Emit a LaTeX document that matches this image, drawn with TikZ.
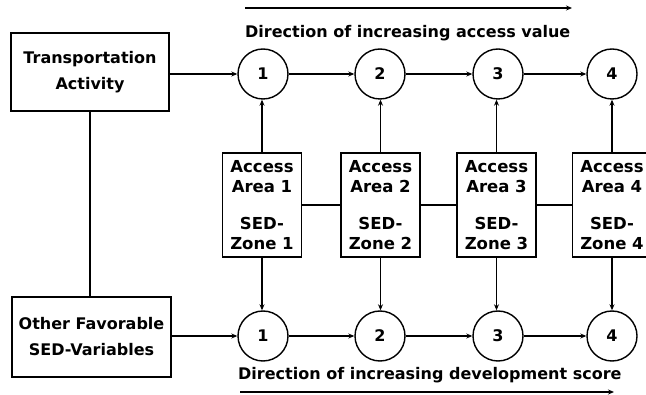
\documentclass[tikz,border=0pt]{standalone}
\usepackage{fontspec}
\setmainfont{DejaVu Sans}
\usetikzlibrary{arrows.meta}
\begin{document}
\begin{tikzpicture}[x=1pt,y=-1pt,
  every node/.style={font=\bfseries\fontsize{16}{26}\selectfont},
  bigbox/.style={draw,line width=1.4pt,minimum width=158pt,minimum height=78pt,inner sep=0pt,align=center},
  areabox/.style={draw,line width=1.4pt,minimum width=79pt,minimum height=104pt,inner sep=0pt,align=center,
     font=\bfseries\fontsize{16.5}{20}\selectfont},
  numc/.style={draw,circle,line width=1.4pt,minimum size=50pt,inner sep=0pt,font=\bfseries\fontsize{16}{20}\selectfont},
  conn/.style={line width=1.2pt},
  arr/.style={conn,-{Stealth[length=6pt,width=5pt]}},
  lbl/.style={anchor=base west,inner sep=0pt}
]
\useasboundingbox (0,0) rectangle (646,395);

\node[bigbox] (ta) at (90,72) {Transportation\\Activity};
\node[bigbox,minimum width=159pt,minimum height=80pt] (of) at (91.5,337) {Other Favorable\\SED-Variables};

\foreach \i/\cx/\bx in {1/263/262,2/380/380,3/498/496.5,4/612/612}{
  \node[numc] (t\i) at (\cx,74) {\i};
  \node[numc] (b\i) at (\cx,336) {\i};
}
\node[areabox] (z1) at (262,205) {Access\\Area 1\\[17pt]SED-\\Zone 1};
\node[areabox] (z2) at (380.5,205) {Access\\Area 2\\[17pt]SED-\\Zone 2};
\node[areabox] (z3) at (496.5,205) {Access\\Area 3\\[17pt]SED-\\Zone 3};
\node[areabox] (z4) at (612,205) {Access\\Area 4\\[17pt]SED-\\Zone 4};

% left vertical link
\draw[conn] (ta.south) -- (ta.south |- of.north);

% inputs
\draw[arr] (ta.east |- t1.west) -- (t1.west);
\draw[arr] (of.east |- b1.west) -- (b1.west);

% chains
\draw[arr] (t1) -- (t2);
\draw[arr] (t2) -- (t3);
\draw[arr] (t3) -- (t4);
\draw[arr] (b1) -- (b2);
\draw[arr] (b2) -- (b3);
\draw[arr] (b3) -- (b4);

% boxes to circles
\foreach \i in {1,2,3,4}{
  \draw[arr] (z\i.north) -- (z\i.north |- t\i.south);
  \draw[arr] (z\i.south) -- (z\i.south |- b\i.north);
}

% box links
\draw[conn] (z1.east) -- (z2.west);
\draw[conn] (z2.east) -- (z3.west);
\draw[conn] (z3.east) -- (z4.west);

% direction labels
\node[lbl] (dtop) at (245,38) {Direction of increasing access value};
\node[lbl] (dbot) at (238,380) {Direction of increasing development score};
\coordinate (ats) at (245,8);
\coordinate (ate) at (572,8);
\coordinate (abs) at (240,392);
\coordinate (abe) at (614,392);
\draw[arr] (ats) -- (ate);
\draw[arr] (abs) -- (abe);
\end{tikzpicture}
\end{document}
